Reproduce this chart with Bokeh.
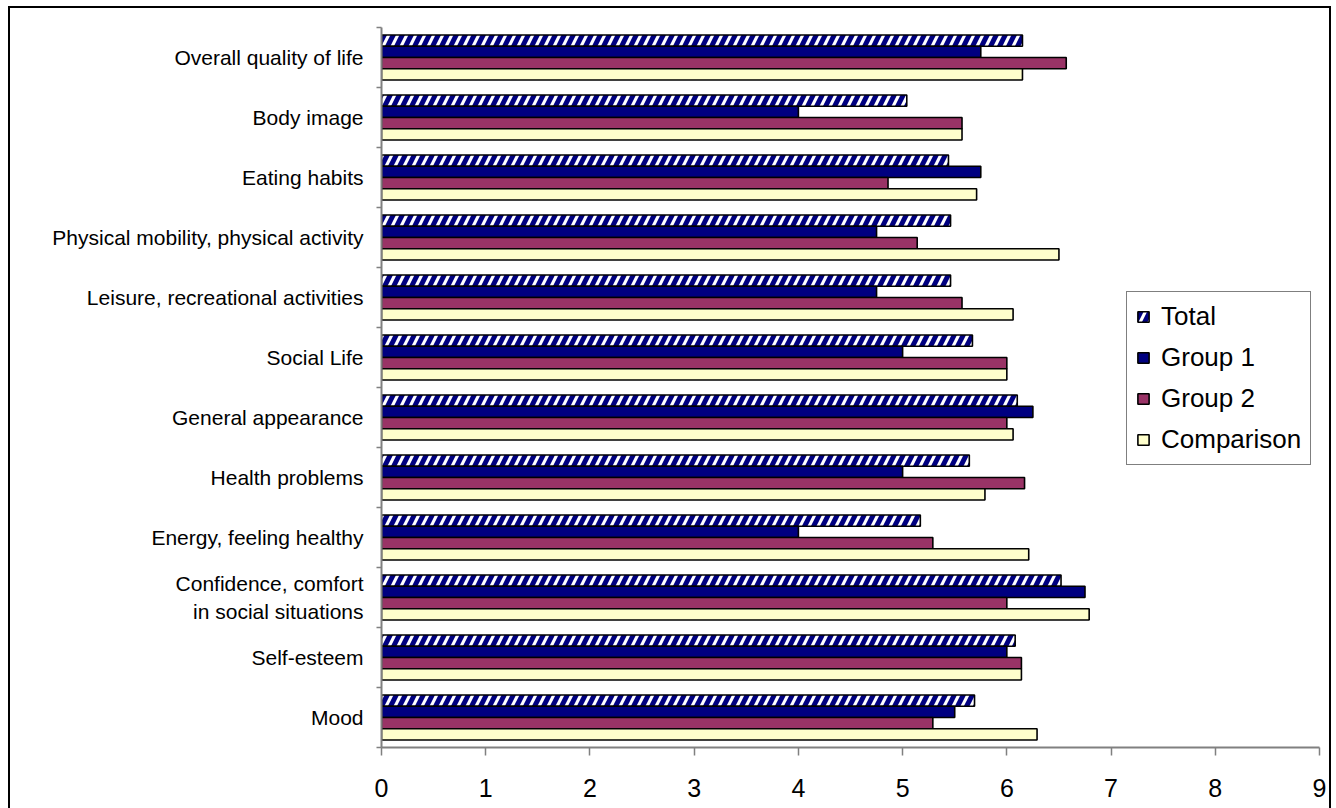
import numpy as np
from bokeh.plotting import figure
from bokeh.models import Range1d, FixedTicker, InlineStyleSheet
from bokeh.embed import file_html
from bokeh.resources import INLINE

# Quality-of-life domains, listed bottom to top as they appear on the axis
categories = [
    "Mood",
    "Self-esteem",
    "Confidence, comfort\nin social situations",
    "Energy, feeling healthy",
    "Health problems",
    "General appearance",
    "Social Life",
    "Leisure, recreational activities",
    "Physical mobility, physical activity",
    "Eating habits",
    "Body image",
    "Overall quality of life",
]

total      = [5.69, 6.08, 6.52, 5.17, 5.64, 6.10, 5.67, 5.46, 5.46, 5.44, 5.04, 6.15]
group1     = [5.50, 6.00, 6.75, 4.00, 5.00, 6.25, 5.00, 4.75, 4.75, 5.75, 4.00, 5.75]
group2     = [5.29, 6.14, 6.00, 5.29, 6.17, 6.00, 6.00, 5.57, 5.14, 4.86, 5.57, 6.57]
comparison = [6.29, 6.14, 6.79, 6.21, 5.79, 6.06, 6.00, 6.06, 6.50, 5.71, 5.57, 6.15]

x_ticks = list(range(0, 10))

FONT = "Liberation Sans"
AXIS_GREY = "#808080"

n = len(categories)
base = np.arange(n)
bar_h = 0.1875  # four bars fill 3/4 of each category band

# thin black frame around the whole chart area
frame_css = InlineStyleSheet(css="""
:host::after {
  content: "";
  position: absolute;
  left: 8px; top: 6px;
  width: 1323px; height: 802px;
  box-sizing: border-box;
  border: 2.5px solid black;
  border-bottom: none;
  pointer-events: none;
  z-index: 10;
}
""")

p = figure(
    width=1336, height=808,
    x_range=Range1d(0, 9), y_range=Range1d(0, n),
    output_backend="svg", toolbar_location=None,
    min_border_left=381, min_border_right=17,
    min_border_top=27, min_border_bottom=61,
    background_fill_color="white", border_fill_color="white",
    stylesheets=[frame_css],
)
p.outline_line_color = None
p.xgrid.visible = False
p.ygrid.visible = False

series = [
    ("Total", total, dict(fill_color="white", hatch_pattern="/", hatch_color="#000080",
                          hatch_scale=18, hatch_weight=5)),
    ("Group 1", group1, dict(fill_color="#000080")),
    ("Group 2", group2, dict(fill_color="#993366")),
    ("Comparison", comparison, dict(fill_color="#FFFFCC")),
]

for k, (name, vals, style) in enumerate(series):
    centers = base + 1 - 0.125 - bar_h * (k + 0.5)
    p.hbar(y=centers, left=0, right=vals, height=bar_h,
           line_color="black", line_width=1.6, legend_label=name, **style)

# x axis
p.xaxis.ticker = FixedTicker(ticks=x_ticks)
p.xaxis.axis_line_color = AXIS_GREY
p.xaxis.axis_line_width = 2
p.xaxis.major_tick_line_color = AXIS_GREY
p.xaxis.major_tick_line_width = 1.5
p.xaxis.major_tick_out = 8
p.xaxis.major_tick_in = 0
p.xaxis.minor_tick_line_color = None
p.xaxis.major_label_text_font = FONT
p.xaxis.major_label_text_font_size = "25px"
p.xaxis.major_label_text_color = "black"
p.xaxis.major_label_standoff = 23

# y axis: labels at band centres, tick marks at band boundaries
p.yaxis.ticker = FixedTicker(ticks=list(base + 0.5), minor_ticks=list(range(0, n + 1)))
p.yaxis.major_label_overrides = {float(c + 0.5): lab for c, lab in zip(base, categories)}
p.yaxis.axis_line_color = AXIS_GREY
p.yaxis.axis_line_width = 2
p.yaxis.major_tick_line_color = None
p.yaxis.major_tick_out = 0
p.yaxis.major_tick_in = 0
p.yaxis.minor_tick_line_color = AXIS_GREY
p.yaxis.minor_tick_line_width = 1.5
p.yaxis.minor_tick_out = 5
p.yaxis.minor_tick_in = 0
p.yaxis.major_label_text_font = FONT
p.yaxis.major_label_text_font_size = "21px"
p.yaxis.major_label_text_color = "black"
p.yaxis.major_label_standoff = 13

# legend
lg = p.legend[0]
lg.location = (745, 282)
lg.border_line_color = "black"
lg.border_line_width = 1
lg.background_fill_color = "white"
lg.background_fill_alpha = 1
lg.label_text_font = FONT
lg.label_text_font_size = "26px"
lg.label_text_color = "black"
lg.glyph_width = 14
lg.glyph_height = 13
lg.label_standoff = 11
lg.label_height = 30
lg.spacing = 10
lg.padding = 9
lg.margin = 0

open("out.html", "w").write(file_html(p, INLINE))
